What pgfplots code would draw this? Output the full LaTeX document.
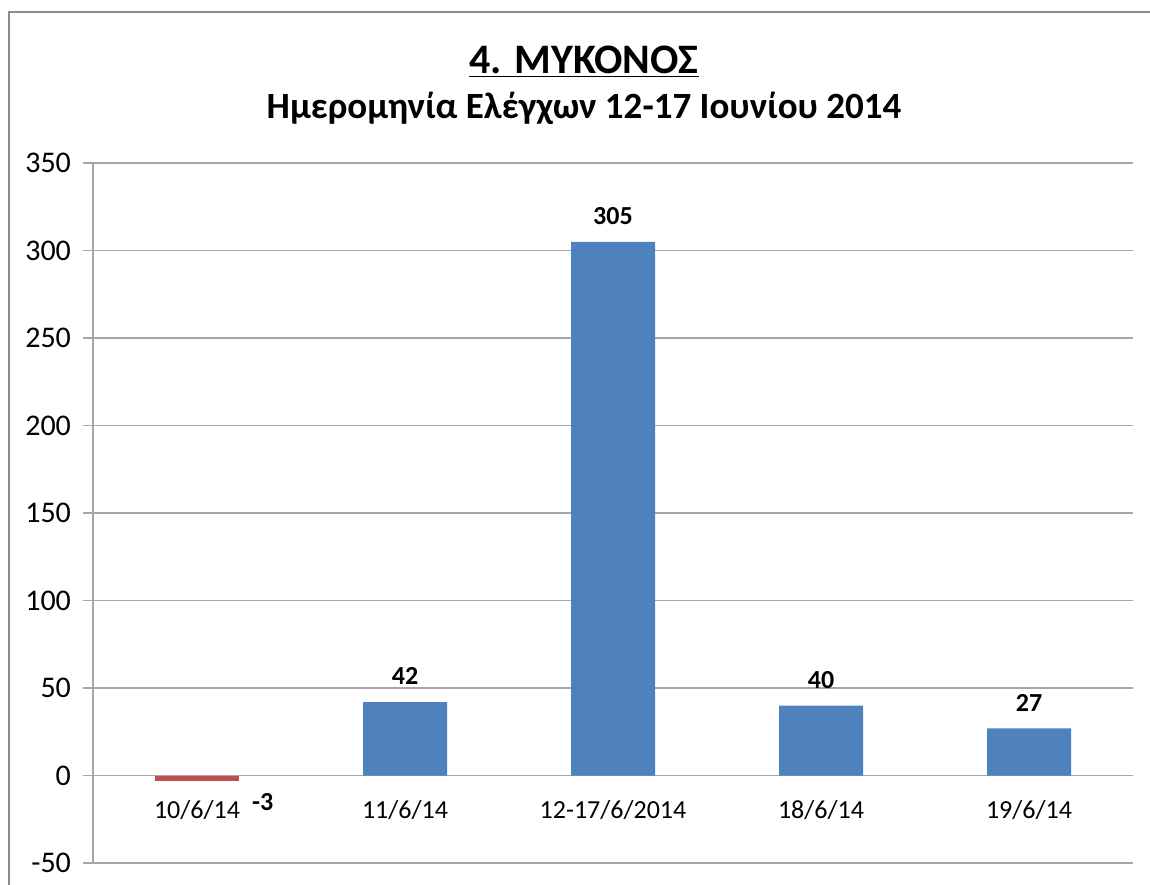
\documentclass[border=0pt]{standalone}
\usepackage{fontspec}
\setmainfont{Carlito}
\usepackage{pgfplots}
\pgfplotsset{compat=1.18}

\definecolor{barblue}{HTML}{4F81BD}
\definecolor{barred}{HTML}{C0504D}
\definecolor{gridgray}{HTML}{A6A6A6}
\definecolor{framegray}{HTML}{8C8C8C}

\begin{document}
\begin{tikzpicture}
% 1 px of the reference = 0.5pt
\useasboundingbox (0,0) rectangle (575pt,-442pt);
\draw[framegray, line width=1.2pt] (4.5pt,-6pt) rectangle (700pt,-700pt);

\node[font=\fontsize{21}{24}\selectfont\bfseries, anchor=base] at (292pt,-36.5pt)
  {\underline{4. ΜΥΚΟΝΟΣ}};
\node[font=\fontsize{18.5}{21}\selectfont\bfseries, anchor=base] at (292pt,-59pt)
  {Ημερομηνία Ελέγχων 12-17 Ιουνίου 2014};

\begin{axis}[
  at={(46.5pt,-431.5pt)}, anchor=south west,
  scale only axis,
  width=520pt, height=350pt,
  ybar, bar width=42pt, bar shift=0pt,
  xmin=-0.5, xmax=4.5,
  ymin=-50, ymax=350,
  ytick={-50,0,50,100,150,200,250,300,350},
  yticklabels={-50,0,50,100,150,200,250,300,350},
  xtick={0,1,2,3,4},
  xticklabels={10/6/14, 11/6/14, 12-17/6/2014, 18/6/14, 19/6/14},
  axis x line*=middle,
  axis y line*=left,
  hide obscured x ticks=false,
  hide obscured y ticks=false,
  axis line style={gridgray, line width=0.6pt},
  xtick style={draw=none},
  ytick style={gridgray, line width=0.6pt},
  tick align=outside,
  major tick length=5pt,
  ymajorgrids,
  grid style={gridgray, line width=0.6pt},
  /pgf/number format/assume math mode=true,
  xticklabel style={font=\fontsize{13}{15}\selectfont, yshift=-4pt},
  yticklabel style={font=\fontsize{15}{17}\selectfont, xshift=-2.5pt},
  nodes near coords,
  every node near coord/.append style={font=\fontsize{13}{15}\selectfont\bfseries, yshift=5pt},
]
  \addplot[fill=barred, draw=none,
    every node near coord/.append style={anchor=north west, xshift=24pt, yshift=-8pt}]
    coordinates {(0,-3)};
  \addplot[fill=barblue, draw=none]
    coordinates {(1,42) (2,305) (3,40) (4,27)};
\end{axis}
\end{tikzpicture}
\end{document}
